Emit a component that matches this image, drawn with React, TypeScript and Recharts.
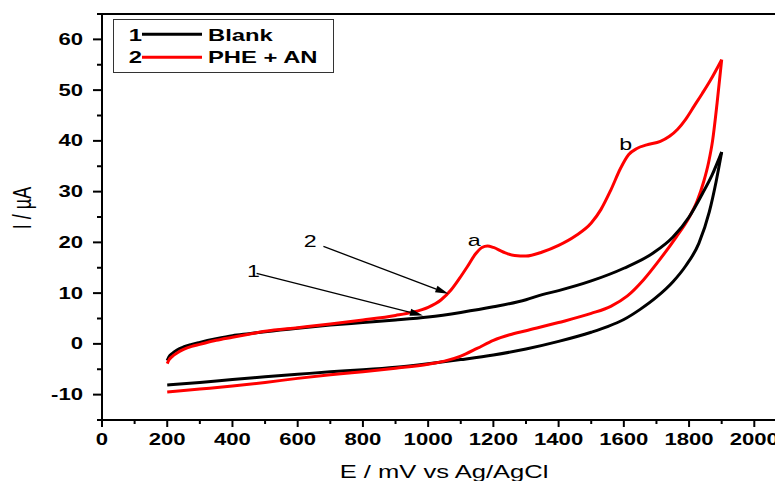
import React from 'react';
import { LineChart, Line, XAxis, YAxis, ReferenceLine, ReferenceDot, Legend } from 'recharts';

// ---- data (E in mV, I in µA) ----
const blankForwardPts: [number, number][] = [
  [200, -3.3], [205, -2.6], [215, -1.9], [230, -1.2], [250, -0.6], [275, -0.1], [300, 0.3],
  [350, 1.0], [400, 1.6], [450, 2.0], [500, 2.4], [600, 3.1], [700, 3.7], [800, 4.2],
  [900, 4.7], [1000, 5.3], [1100, 6.2], [1200, 7.3], [1300, 8.7], [1350, 9.7], [1400, 10.5],
  [1500, 12.4], [1600, 14.9], [1690, 17.9], [1750, 21.0], [1800, 25.0], [1840, 29.5],
  [1870, 33.2], [1900, 37.8],
];
const blankReversePts: [number, number][] = [
  [200, -8.1], [300, -7.6], [400, -7.0], [500, -6.5], [600, -6.0], [700, -5.5], [800, -5.1],
  [900, -4.6], [1000, -3.9], [1100, -3.1], [1200, -2.2], [1300, -1.0], [1400, 0.5],
  [1500, 2.3], [1550, 3.4], [1600, 4.8], [1650, 6.8], [1700, 9.2], [1750, 12.2],
  [1790, 15.4], [1830, 19.8], [1862, 26.0], [1883, 32.0], [1900, 37.8],
];
const pheForwardPts: [number, number][] = [
  [200, -3.9], [205, -3.2], [215, -2.5], [230, -1.8], [250, -1.1], [275, -0.5], [300, -0.1],
  [350, 0.7], [400, 1.3], [450, 1.9], [500, 2.5], [600, 3.2], [700, 3.9], [800, 4.7],
  [900, 5.6], [950, 6.2], [1000, 7.2], [1040, 8.7], [1070, 10.6], [1095, 12.8], [1120, 15.2],
  [1145, 17.7], [1165, 19.0], [1182, 19.3], [1200, 19.0], [1230, 18.1], [1265, 17.4],
  [1300, 17.3], [1350, 18.1], [1400, 19.4], [1450, 21.2], [1500, 23.8], [1530, 26.5],
  [1560, 30.3], [1590, 34.6], [1615, 37.3], [1640, 38.5], [1670, 39.2], [1712, 39.9],
  [1740, 40.9], [1765, 42.3], [1790, 44.3], [1815, 46.8], [1840, 49.3], [1865, 51.9],
  [1900, 56.0],
];
const pheReversePts: [number, number][] = [
  [200, -9.5], [300, -8.9], [400, -8.3], [500, -7.6], [600, -6.8], [700, -6.1], [800, -5.5],
  [900, -4.8], [1000, -4.0], [1050, -3.4], [1100, -2.4], [1150, -0.9], [1200, 0.7],
  [1250, 1.8], [1300, 2.6], [1400, 4.2], [1500, 6.0], [1560, 7.4], [1610, 9.4],
  [1660, 12.6], [1710, 16.6], [1760, 21.0], [1800, 24.9], [1825, 28.2], [1845, 32.0],
  [1860, 35.8], [1872, 40.0], [1886, 47.5], [1900, 56.0],
];

const xTicks = [0, 100, 200, 300, 400, 500, 600, 700, 800, 900, 1000, 1100, 1200, 1300, 1400, 1500, 1600, 1700, 1800, 1900, 2000];
const yTicks = [-15, -10, -5, 0, 5, 10, 15, 20, 25, 30, 35, 40, 45, 50, 55, 60, 65];

const legendNumbers = ['1', '2'];
const legendLabels = ['Blank', 'PHE + AN'];
const seriesColors = ['#000000', '#ff0000'];

const annotationTexts = [
  { text: '1', x: 464, y: 13.1 },
  { text: '2', x: 638, y: 19.05 },
  { text: 'a', x: 1141, y: 19.2 },
  { text: 'b', x: 1606, y: 38.3 },
];
const arrowSegments = [
  { from: { x: 474, y: 13.9 }, to: { x: 984, y: 5.6 } },
  { from: { x: 679, y: 19.2 }, to: { x: 1062, y: 9.9 } },
];

const toObj = (pts: [number, number][]) => pts.map(([x, y]) => ({ x, y }));
const blankForward = toObj(blankForwardPts);
const blankReverse = toObj(blankReversePts);
const pheForward = toObj(pheForwardPts);
const pheReverse = toObj(pheReversePts);

const FONT = '"Liberation Sans", Arial, Helvetica, sans-serif';
const SX = 1.38;

const XTick = (props: any) => {
  const { x, y, payload } = props;
  const v = payload.value;
  const major = v % 200 === 0;
  return (
    <g>
      <line x1={x} x2={x} y1={y} y2={y + (major ? 7 : 4)} stroke="#000" strokeWidth={2} />
      {major && (
        <text
          transform={`translate(${x},${y + 25}) scale(${SX},1)`}
          textAnchor="middle"
          fontFamily={FONT}
          fontWeight="bold"
          fontSize={16}
          fill="#000"
        >
          {v}
        </text>
      )}
    </g>
  );
};

const YTick = (props: any) => {
  const { x, y, payload } = props;
  const v = payload.value;
  const major = v % 10 === 0;
  const labeled = major && v >= -10 && v <= 60;
  return (
    <g>
      <line x1={x - (major ? 9 : 5)} x2={x} y1={y} y2={y} stroke="#000" strokeWidth={2} />
      {labeled && (
        <text
          transform={`translate(${x - 19},${y + 5.5}) scale(${SX},1)`}
          textAnchor="end"
          fontFamily={FONT}
          fontWeight="bold"
          fontSize={16}
          fill="#000"
        >
          {v}
        </text>
      )}
    </g>
  );
};

const XLabel = (props: any) => {
  const vb = props.viewBox || { x: 94, y: 412, width: 681, height: 61 };
  return (
    <text
      transform={`translate(${vb.x + 342},${vb.y + 58}) scale(1.42,1)`}
      textAnchor="middle"
      fontFamily={FONT}
      fontSize={18}
      fill="#000"
    >
      E / mV vs Ag/AgCl
    </text>
  );
};

const YLabel = (props: any) => {
  const vb = props.viewBox || { x: 0, y: 6, width: 94, height: 406 };
  const cx = vb.x + 23;
  const cy = vb.y + vb.height / 2 - 9;
  return (
    <text
      transform={`translate(${cx},${cy}) scale(1.45,1) rotate(-90)`}
      textAnchor="middle"
      fontFamily={FONT}
      fontSize={18}
      fill="#000"
    >
      I / µA
    </text>
  );
};

const Arrow = (props: any) => {
  const { x1, y1, x2, y2 } = props;
  const ang = Math.atan2(y2 - y1, x2 - x1);
  const L = 13;
  const W = 3.5;
  const bx = x2 - L * Math.cos(ang);
  const by = y2 - L * Math.sin(ang);
  const px = -Math.sin(ang) * W;
  const py = Math.cos(ang) * W;
  return (
    <g>
      <line x1={x1} y1={y1} x2={bx} y2={by} stroke="#000" strokeWidth={1.3} />
      <polygon points={`${x2},${y2} ${bx + px},${by + py} ${bx - px},${by - py}`} fill="#000" />
    </g>
  );
};

const renderLegend = () => (
  <svg width={222} height={56} style={{ display: 'block' }}>
    <rect x={0.5} y={0.5} width={220} height={53} fill="#fff" stroke="#333" strokeWidth={1} />
    {legendLabels.map((lab, i) => {
      const ly = 15.3 + i * 23;
      const by = 21.7 + i * 22.6;
      return (
        <g key={lab}>
          <text
            transform={`translate(29,${by}) scale(1.4,1)`}
            textAnchor="end"
            fontFamily={FONT}
            fontWeight="bold"
            fontSize={17}
            fill="#000"
          >
            {legendNumbers[i]}
          </text>
          <line x1={29} x2={89} y1={ly} y2={ly} stroke={seriesColors[i]} strokeWidth={3} />
          <text
            transform={`translate(95,${by}) scale(1.4,1)`}
            textAnchor="start"
            fontFamily={FONT}
            fontWeight="bold"
            fontSize={17}
            fill="#000"
          >
            {lab}
          </text>
        </g>
      );
    })}
  </svg>
);

const TextMark = (text: string) => (props: any) => (
  <text
    transform={`translate(${props.cx},${props.cy}) scale(1.45,1)`}
    textAnchor="middle"
    fontFamily={FONT}
    fontSize={16}
    fill="#000"
  >
    {text}
  </text>
);

export default function App() {
  return (
    <div style={{ width: 775, height: 473, background: '#fff' }}>
      <LineChart width={775} height={473} margin={{ top: 6, right: 0, bottom: 0, left: 0 }}>
        <XAxis
          dataKey="x"
          type="number"
          domain={[0, 2088]}
          ticks={xTicks}
          interval={0}
          height={61}
          tickSize={0}
          tickMargin={0}
          tickLine={false}
          tick={<XTick />}
          axisLine={{ stroke: '#000', strokeWidth: 2 }}
          allowDataOverflow
          label={{ content: (p: any) => <XLabel {...p} /> }}
        />
        <YAxis
          type="number"
          domain={[-15, 65]}
          ticks={yTicks}
          interval={0}
          width={94}
          tickSize={0}
          tickMargin={0}
          tickLine={false}
          tick={<YTick />}
          axisLine={{ stroke: '#000', strokeWidth: 2 }}
          allowDataOverflow
          label={{ content: (p: any) => <YLabel {...p} /> }}
        />
        <ReferenceLine y={65} stroke="#000" strokeWidth={2} />
        <Legend
          layout="horizontal"
          verticalAlign="middle"
          align="center"
          content={renderLegend}
          wrapperStyle={{ position: 'absolute', left: 105, top: 11, width: 222, height: 56 }}
        />
        <Line data={blankReverse} dataKey="y" type="monotone" stroke={seriesColors[0]} strokeWidth={3} dot={false} isAnimationActive={false} legendType="none" />
        <Line data={pheReverse} dataKey="y" type="monotone" stroke={seriesColors[1]} strokeWidth={3} dot={false} isAnimationActive={false} legendType="none" />
        <Line data={blankForward} dataKey="y" type="monotone" stroke={seriesColors[0]} strokeWidth={3} dot={false} isAnimationActive={false} legendType="none" />
        <Line data={pheForward} dataKey="y" type="monotone" stroke={seriesColors[1]} strokeWidth={3} dot={false} isAnimationActive={false} legendType="none" />
        {arrowSegments.map((s, i) => (
          <ReferenceLine key={`arr${i}`} segment={[s.from, s.to]} shape={(p: any) => <Arrow {...p} />} />
        ))}
        {annotationTexts.map((a) => (
          <ReferenceDot key={`t${a.text}`} x={a.x} y={a.y} r={0} shape={TextMark(a.text)} />
        ))}
      </LineChart>
    </div>
  );
}
